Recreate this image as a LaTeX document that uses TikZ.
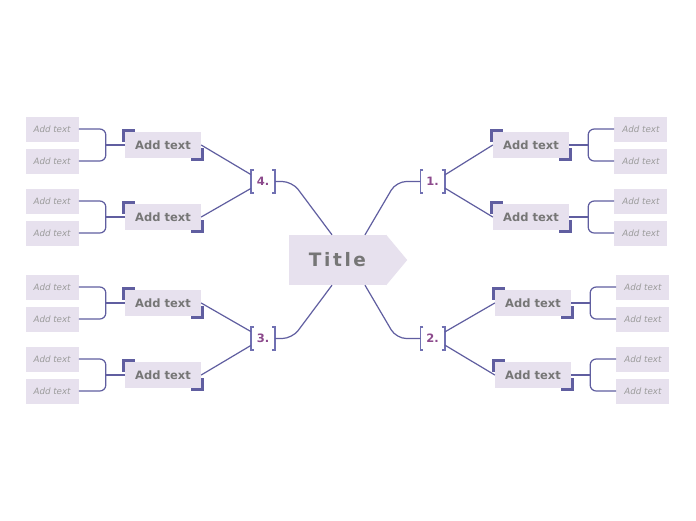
\documentclass[tikz,border=0pt]{standalone}
\usepackage{fontspec}
\setmainfont{DejaVu Sans}
\newfontfamily\titlefont[LetterSpace=14]{DejaVu Sans}
\usepackage{xcolor}
\usetikzlibrary{positioning}
\definecolor{mapline}{RGB}{96,94,160}
\definecolor{mapbracket}{RGB}{112,112,178}
\definecolor{mapfill}{RGB}{231,225,238}
\definecolor{mapnum}{RGB}{140,74,140}
\definecolor{maptext}{RGB}{118,118,118}
\definecolor{mapsubtext}{RGB}{155,155,155}

\begin{document}
\begin{tikzpicture}[
    x=1pt, y=-1pt,
    titlebox/.style={fill=mapfill, minimum width=97pt, minimum height=50pt,
                inner sep=0pt, text=maptext,
                font=\titlefont\bfseries\fontsize{18.5}{18.5}\selectfont},
    topic/.style={fill=mapfill, minimum width=76pt, minimum height=26pt,
                inner sep=0pt, text=maptext,
                font=\bfseries\fontsize{11.5}{12}\selectfont},
    sub/.style={fill=mapfill, minimum width=53pt, minimum height=25pt,
                inner sep=0pt, text=mapsubtext,
                font=\itshape\fontsize{8.7}{9}\selectfont},
    num/.style={minimum width=24pt, minimum height=23pt, inner sep=0pt,
                text=mapnum, font=\bfseries\fontsize{11.5}{12}\selectfont},
    link/.style={draw=mapline, line width=1.2pt},
    brk/.style={draw=mapbracket, line width=1.6pt},
    cornermark/.style={draw=mapline, line width=3pt},
]
\fill[white] (0,0) rectangle (696,520);
\useasboundingbox (0,0) rectangle (696,520);

% ── Centre: title ──────────────────────────────────────────────────────
\node[titlebox] (ttl) at (337.5,260) {Title};
\fill[mapfill] (ttl.north east) -- ([xshift=21pt]ttl.east) -- (ttl.south east) -- cycle;

% ── Numbered branches ──────────────────────────────────────────────────
\node[num] (b1) at (432.5,181.5) {1.};
\node[num] (b2) at (432.5,338.5) {2.};
\node[num] (b3) at (263,338.5)   {3.};
\node[num] (b4) at (263,181.5)   {4.};

% ── Branch 1 (top right) ───────────────────────────────────────────────
\node[topic] (t1a) at (531,145) {Add text};
\node[topic] (t1b) at (531,217) {Add text};
\node[sub, right=45pt of t1a, yshift=16pt]  (s1a1) {Add text};
\node[sub, right=45pt of t1a, yshift=-16pt] (s1a2) {Add text};
\node[sub, right=45pt of t1b, yshift=16pt]  (s1b1) {Add text};
\node[sub, right=45pt of t1b, yshift=-16pt] (s1b2) {Add text};

% ── Branch 2 (bottom right) ────────────────────────────────────────────
\node[topic] (t2a) at (533,303) {Add text};
\node[topic] (t2b) at (533,375) {Add text};
\node[sub, right=45pt of t2a, yshift=16pt]  (s2a1) {Add text};
\node[sub, right=45pt of t2a, yshift=-16pt] (s2a2) {Add text};
\node[sub, right=45pt of t2b, yshift=16pt]  (s2b1) {Add text};
\node[sub, right=45pt of t2b, yshift=-16pt] (s2b2) {Add text};

% ── Branch 3 (bottom left) ─────────────────────────────────────────────
\node[topic] (t3a) at (163,303) {Add text};
\node[topic] (t3b) at (163,375) {Add text};
\node[sub, left=46pt of t3a, yshift=16pt]  (s3a1) {Add text};
\node[sub, left=46pt of t3a, yshift=-16pt] (s3a2) {Add text};
\node[sub, left=46pt of t3b, yshift=16pt]  (s3b1) {Add text};
\node[sub, left=46pt of t3b, yshift=-16pt] (s3b2) {Add text};

% ── Branch 4 (top left) ────────────────────────────────────────────────
\node[topic] (t4a) at (163,145) {Add text};
\node[topic] (t4b) at (163,217) {Add text};
\node[sub, left=46pt of t4a, yshift=16pt]  (s4a1) {Add text};
\node[sub, left=46pt of t4a, yshift=-16pt] (s4a2) {Add text};
\node[sub, left=46pt of t4b, yshift=16pt]  (s4b1) {Add text};
\node[sub, left=46pt of t4b, yshift=-16pt] (s4b2) {Add text};

% ── Brackets and corner marks ──────────────────────────────────────────
\foreach \b in {b1,b2,b3,b4} {
  \draw[brk] ([xshift=3pt]\b.north west) -| (\b.south west) -- ++(3,0);
  \draw[brk] ([xshift=-3pt]\b.north east) -| (\b.south east) -- ++(-3,0);
}
\foreach \k in {1a,1b,2a,2b,3a,3b,4a,4b} {
  \draw[cornermark] ([shift={(-1.5pt,-10pt)}]t\k.north west) |- ([shift={(10pt,1.5pt)}]t\k.north west);
  \draw[cornermark] ([shift={(-10pt,-1.5pt)}]t\k.south east) -| ([shift={(1.5pt,10pt)}]t\k.south east);
}

% ── Title to branches ──────────────────────────────────────────────────
\draw[link, rounded corners=10pt] ([xshift=27.5pt]ttl.north) -- ([xshift=-24pt]b1.west) -- (b1.west);
\draw[link, rounded corners=10pt] ([xshift=27.5pt]ttl.south) -- ([xshift=-24pt]b2.west) -- (b2.west);
\draw[link, rounded corners=10pt] ([xshift=-5.5pt]ttl.south) -- ([xshift=17pt]b3.east) -- (b3.east);
\draw[link, rounded corners=10pt] ([xshift=-5.5pt]ttl.north) -- ([xshift=17pt]b4.east) -- (b4.east);

% ── Branches to topics ─────────────────────────────────────────────────
\draw[link] ([yshift=6.5pt]b1.east)  -- (t1a.west);
\draw[link] ([yshift=-6.5pt]b1.east) -- (t1b.west);
\draw[link] ([yshift=6.5pt]b2.east)  -- (t2a.west);
\draw[link] ([yshift=-6.5pt]b2.east) -- (t2b.west);
\draw[link] (t3a.east) -- ([yshift=7pt]b3.west);
\draw[link] (t3b.east) -- ([yshift=-7pt]b3.west);
\draw[link] (t4a.east) -- ([yshift=7pt]b4.west);
\draw[link] (t4b.east) -- ([yshift=-7pt]b4.west);

% ── Topics to subtopics ────────────────────────────────────────────────
\foreach \k in {1a,1b,2a,2b} {
  \draw[link] (t\k.east) -- ++(19,0);
  \draw[link, rounded corners=6pt] (s\k1.west) -| ([xshift=19pt]t\k.east) |- (s\k2.west);
}
\foreach \k in {3a,3b,4a,4b} {
  \draw[link] (t\k.west) -- ++(-19,0);
  \draw[link, rounded corners=6pt] (s\k1.east) -| ([xshift=-19pt]t\k.west) |- (s\k2.east);
}

\end{tikzpicture}
\end{document}
